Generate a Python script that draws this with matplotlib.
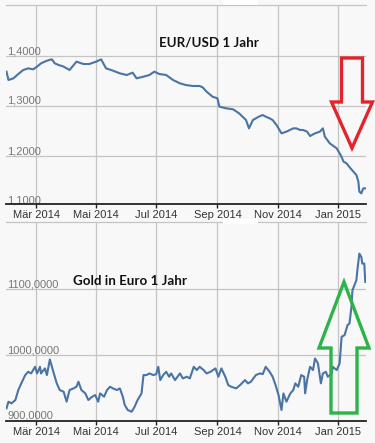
import matplotlib
matplotlib.use("Agg")
import matplotlib.pyplot as plt
from matplotlib.patches import Polygon, Rectangle
import pandas as pd

# ---------------- data ----------------
eur_dates = ["2014-01-30", "2014-02-01", "2014-02-06", "2014-02-11", "2014-02-16", "2014-02-21",
             "2014-02-26", "2014-03-02", "2014-03-06", "2014-03-12", "2014-03-17", "2014-03-20",
             "2014-03-24", "2014-03-29", "2014-04-04", "2014-04-11", "2014-04-18", "2014-04-24",
             "2014-05-01", "2014-05-06", "2014-05-11", "2014-05-18", "2014-05-25", "2014-06-01",
             "2014-06-07", "2014-06-11", "2014-06-18", "2014-06-24", "2014-06-29", "2014-07-04",
             "2014-07-11", "2014-07-18", "2014-07-25", "2014-07-31", "2014-08-07", "2014-08-14",
             "2014-08-17", "2014-08-21", "2014-08-27", "2014-09-01", "2014-09-03", "2014-09-10",
             "2014-09-17", "2014-09-23", "2014-09-30", "2014-10-03", "2014-10-07", "2014-10-13",
             "2014-10-17", "2014-10-20", "2014-10-24", "2014-10-27", "2014-10-31", "2014-11-05",
             "2014-11-10", "2014-11-17", "2014-11-20", "2014-11-24", "2014-11-27", "2014-12-01",
             "2014-12-04", "2014-12-09", "2014-12-14", "2014-12-17", "2014-12-19", "2014-12-24",
             "2014-12-31", "2015-01-04", "2015-01-07", "2015-01-10", "2015-01-14", "2015-01-17",
             "2015-01-20", "2015-01-22", "2015-01-23", "2015-01-25", "2015-01-27", "2015-01-29"]
eur_usd = [1.3687, 1.3520, 1.3553, 1.3640, 1.3720, 1.3753,
           1.3733, 1.3787, 1.3853, 1.3907, 1.3933, 1.3853,
           1.3820, 1.3787, 1.3720, 1.3887, 1.3840, 1.3840,
           1.3887, 1.3933, 1.3753, 1.3707, 1.3653, 1.3620,
           1.3667, 1.3553, 1.3587, 1.3620, 1.3687, 1.3640,
           1.3620, 1.3520, 1.3453, 1.3420, 1.3400, 1.3400,
           1.3373, 1.3287, 1.3187, 1.3153, 1.2987, 1.2953,
           1.2933, 1.2853, 1.2720, 1.2553, 1.2720, 1.2787,
           1.2820, 1.2787, 1.2753, 1.2720, 1.2620, 1.2453,
           1.2487, 1.2553, 1.2553, 1.2520, 1.2520, 1.2487,
           1.2400, 1.2453, 1.2487, 1.2553, 1.2387, 1.2253,
           1.2153, 1.2020, 1.1887, 1.1853, 1.1753, 1.1687,
           1.1620, 1.1487, 1.1287, 1.1253, 1.1353, 1.1353]

gold_dates = ["2014-01-30", "2014-02-01", "2014-02-04", "2014-02-08", "2014-02-11", "2014-02-14",
              "2014-02-18", "2014-02-21", "2014-02-24", "2014-02-28", "2014-03-02", "2014-03-05",
              "2014-03-06", "2014-03-10", "2014-03-12", "2014-03-15", "2014-03-19", "2014-03-22",
              "2014-03-25", "2014-03-29", "2014-04-01", "2014-04-04", "2014-04-08", "2014-04-11",
              "2014-04-13", "2014-04-16", "2014-04-20", "2014-04-23", "2014-04-27", "2014-04-30",
              "2014-05-03", "2014-05-05", "2014-05-09", "2014-05-12", "2014-05-15", "2014-05-18",
              "2014-05-22", "2014-05-25", "2014-05-28", "2014-05-30", "2014-06-02", "2014-06-06",
              "2014-06-09", "2014-06-12", "2014-06-14", "2014-06-16", "2014-06-18", "2014-06-21",
              "2014-06-24", "2014-06-28", "2014-07-01", "2014-07-03", "2014-07-05", "2014-07-08",
              "2014-07-11", "2014-07-14", "2014-07-16", "2014-07-20", "2014-07-25", "2014-07-28",
              "2014-08-01", "2014-08-04", "2014-08-08", "2014-08-11", "2014-08-14", "2014-08-18",
              "2014-08-21", "2014-08-25", "2014-08-30", "2014-09-02", "2014-09-05", "2014-09-09",
              "2014-09-12", "2014-09-15", "2014-09-20", "2014-09-24", "2014-09-29", "2014-10-02",
              "2014-10-05", "2014-10-10", "2014-10-14", "2014-10-17", "2014-10-20", "2014-10-24",
              "2014-10-27", "2014-10-30", "2014-11-02", "2014-11-03", "2014-11-05", "2014-11-07",
              "2014-11-10", "2014-11-14", "2014-11-17", "2014-11-19", "2014-11-22", "2014-11-25",
              "2014-11-28", "2014-11-29", "2014-12-01", "2014-12-04", "2014-12-07", "2014-12-09",
              "2014-12-12", "2014-12-15", "2014-12-17", "2014-12-20", "2014-12-22", "2014-12-26",
              "2014-12-27", "2014-12-31", "2015-01-03", "2015-01-05", "2015-01-08", "2015-01-10",
              "2015-01-11", "2015-01-13", "2015-01-15", "2015-01-16", "2015-01-18", "2015-01-20",
              "2015-01-21", "2015-01-23", "2015-01-25", "2015-01-26", "2015-01-28", "2015-01-29"]
gold_eur = [919.2, 929.3, 926.8, 931.8, 947.0, 957.1,
            969.7, 974.7, 972.2, 982.3, 972.2, 982.3,
            972.2, 979.8, 969.7, 993.4, 972.2, 957.1,
            947.0, 944.4, 929.3, 947.0, 949.5, 952.0,
            959.6, 947.0, 941.9, 931.8, 936.9, 939.4,
            929.3, 941.9, 936.9, 947.0, 952.0, 949.5,
            947.0, 949.5, 936.9, 924.2, 916.7, 914.1,
            921.7, 931.8, 936.9, 941.9, 969.7, 969.7,
            972.2, 969.7, 971.2, 982.3, 962.1, 969.7,
            974.7, 967.2, 972.2, 962.1, 972.2, 964.6,
            967.2, 964.6, 982.3, 977.3, 982.3, 977.3,
            972.2, 974.7, 979.8, 967.2, 979.8, 967.2,
            954.5, 952.0, 949.5, 954.5, 962.1, 957.1,
            959.6, 969.7, 972.2, 971.2, 982.3, 974.7,
            967.2, 954.5, 939.4, 931.8, 916.7, 941.9,
            929.3, 941.9, 947.0, 957.1, 952.0, 969.7,
            967.2, 941.9, 962.1, 982.3, 977.3, 994.9,
            987.4, 957.1, 972.2, 974.7, 967.2, 972.2,
            982.3, 977.3, 987.4, 1027.8, 1030.3, 1040.4,
            1045.5, 1048.0, 1073.2, 1098.5, 1106.1, 1113.6,
            1128.8, 1154.0, 1149.0, 1138.9, 1138.9, 1111.1]

eur_ticks = [1.1, 1.2, 1.3, 1.4]
eur_ticklabels = ["1,1000", "1,2000", "1,3000", "1,4000"]
gold_ticks = [900, 1000, 1100]
gold_ticklabels = ["900,0000", "1000,0000", "1100,0000"]
month_ticks = ["2014-03-01", "2014-05-01", "2014-07-01", "2014-09-01", "2014-11-01", "2015-01-01"]
month_labels = ["Mär 2014", "Mai 2014", "Jul 2014", "Sep 2014", "Nov 2014", "Jan 2015"]

title_top = "EUR/USD 1 Jahr"
title_bottom = "Gold in Euro 1 Jahr"

# ---------------- figure ----------------
W, H = 375, 443
BG = "#f8f8f8"
LINE = "#4a74a3"
GRID = "#c4c4c4"

fig = plt.figure(figsize=(W / 100, H / 100), dpi=100, facecolor=BG)


def px_rect(x0, y0, x1, y1):
    return [x0 / W, 1 - y1 / H, (x1 - x0) / W, (y1 - y0) / H]


ax1 = fig.add_axes(px_rect(6, 5, 366, 204))
ax2 = fig.add_axes(px_rect(6, 222, 366, 421))

xlim = (pd.Timestamp("2014-01-29 12:00"), pd.Timestamp("2015-01-29 18:00"))
mt = pd.to_datetime(month_ticks)


def style(ax, dates, vals, yticks, ylabels, ylim):
    ax.set_facecolor(BG)
    ax.plot(pd.to_datetime(dates), vals, color=LINE, lw=1.5, solid_joinstyle="round", zorder=3)
    ax.set_xlim(*xlim)
    ax.set_ylim(*ylim)
    ax.set_xticks(mt)
    ax.set_xticklabels(month_labels, fontsize=8, color="#333333", family="Liberation Sans")
    ax.tick_params(axis="x", length=3, width=1, color="#222222", pad=1)
    ax.set_yticks([])
    for v in yticks:
        ax.axhline(v, color=GRID, lw=0.9, zorder=1)
    for t in mt:
        ax.axvline(t, color=GRID, lw=0.9, zorder=1)
    for v, lab in zip(yticks, ylabels):
        ax.text(0.003, v, lab, transform=ax.get_yaxis_transform(), fontsize=8,
                color="#777777", family="Liberation Sans", va="bottom", ha="left",
                zorder=2)
    for s in ["left", "right"]:
        ax.spines[s].set_visible(False)
    ax.spines["top"].set_color(GRID)
    ax.spines["top"].set_linewidth(0.9)
    ax.spines["bottom"].set_color("#222222")
    ax.spines["bottom"].set_linewidth(1.3)


style(ax1, eur_dates, eur_usd, eur_ticks, eur_ticklabels, (1.104, 1.502))
style(ax2, gold_dates, gold_eur, gold_ticks, gold_ticklabels, (900.0, 1202.0))

ax1.text(0.565, 0.81, title_top, transform=ax1.transAxes, ha="center", va="center",
         fontsize=9.6, fontweight="bold", family="Lato", color="#111111")
ax2.text(0.345, 0.706, title_bottom, transform=ax2.transAxes, ha="center", va="center",
         fontsize=9.6, fontweight="bold", family="Lato", color="#111111")


def fig_poly(pts, color):
    p = Polygon([(x / W, 1 - y / H) for x, y in pts], closed=True, fill=False,
                edgecolor=color, lw=2.4, transform=fig.transFigure, joinstyle="miter")
    fig.add_artist(p)


# red arrow (down)
fig_poly([(341.5, 58), (362.5, 58), (362.5, 102), (372.5, 102), (352, 148),
          (331.5, 102), (341.5, 102)], "#e3242b")
# green arrow (up)
fig_poly([(344, 282), (369, 348), (357, 348), (357, 413), (331, 413), (331, 348),
          (319, 348)], "#2db34a")

# small white tabs at panel tops
for y0 in (0, 219):
    fig.add_artist(Rectangle((223 / W, 1 - (y0 + 4.5) / H), 35 / W, 4.5 / H, facecolor="white",
                             edgecolor="none", transform=fig.transFigure))

fig.savefig("out.png", dpi=100, facecolor=BG)
